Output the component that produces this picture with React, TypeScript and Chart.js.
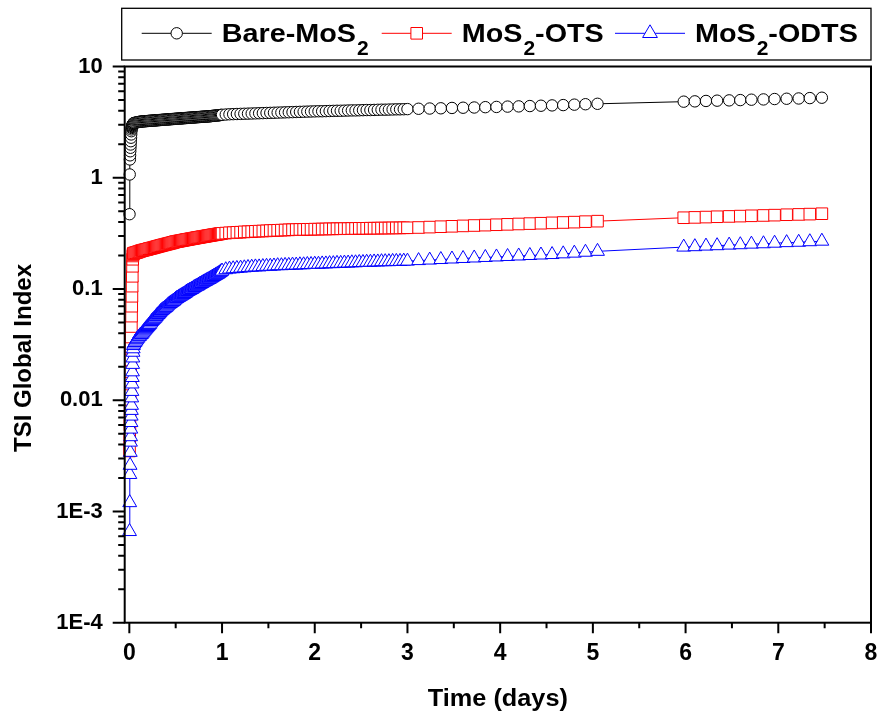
import React, { useEffect, useRef } from 'react';
import { Chart, registerables } from 'chart.js';

Chart.register(...registerables);

// ---- Time samples (days) ----
const TIME_EARLY = [0.002, 0.004, 0.006, 0.008, 0.010, 0.012, 0.014, 0.016, 0.018, 0.020,
  0.022, 0.024, 0.026, 0.028, 0.030, 0.032, 0.034, 0.036, 0.038, 0.040,
  0.042, 0.044];
const TIME_B = [0.05, 0.06, 0.07, 0.08, 0.09, 0.10, 0.11, 0.12, 0.13, 0.14,
  0.15, 0.16, 0.17, 0.18, 0.19, 0.20, 0.21, 0.22, 0.23, 0.24,
  0.25, 0.26, 0.27, 0.28, 0.29, 0.30, 0.31, 0.32, 0.33, 0.34,
  0.35, 0.36, 0.37, 0.38, 0.39, 0.40, 0.41, 0.42, 0.43, 0.44,
  0.45, 0.46, 0.47, 0.48, 0.49, 0.50, 0.51, 0.52, 0.53, 0.54,
  0.55, 0.56, 0.57, 0.58, 0.59, 0.60, 0.61, 0.62, 0.63, 0.64,
  0.65, 0.66, 0.67, 0.68, 0.69, 0.70, 0.71, 0.72, 0.73, 0.74,
  0.75, 0.76, 0.77, 0.78, 0.79, 0.80, 0.81, 0.82, 0.83, 0.84,
  0.85, 0.86, 0.87, 0.88, 0.89, 0.90, 0.91, 0.92, 0.93, 0.94,
  0.95, 0.96, 0.97, 0.98, 0.99, 1.00];
const TIME_C = [1.04, 1.08, 1.12, 1.16, 1.20, 1.24, 1.28, 1.32, 1.36, 1.40,
  1.44, 1.48, 1.52, 1.56, 1.60, 1.64, 1.68, 1.72, 1.76, 1.80,
  1.84, 1.88, 1.92, 1.96, 2.00, 2.04, 2.08, 2.12, 2.16, 2.20,
  2.24, 2.28, 2.32, 2.36, 2.40, 2.44, 2.48, 2.52, 2.56, 2.60,
  2.64, 2.68, 2.72, 2.76, 2.80, 2.84, 2.88, 2.92, 2.96, 3.00];
const TIME_D = [3.12, 3.24, 3.36, 3.48, 3.60, 3.72, 3.84, 3.96, 4.08, 4.20,
  4.32, 4.44, 4.56, 4.68, 4.80, 4.92, 5.05];
const TIME_E = [5.98, 6.10, 6.22, 6.34, 6.47, 6.59, 6.71, 6.84, 6.96, 7.09, 7.22, 7.34, 7.47];

// ---- Bare-MoS2 ----
const BARE_EARLY = [0.47, 1.07, 1.46, 1.59, 1.73, 1.86, 1.99, 2.13, 2.29, 2.45,
  2.62, 2.72, 2.80, 2.86, 2.91, 2.95, 2.98, 3.01, 3.03, 3.05,
  3.07, 3.09];
const BARE_B = [3.10, 3.12, 3.13, 3.15, 3.16, 3.17, 3.18, 3.19, 3.20, 3.21,
  3.21, 3.22, 3.22, 3.23, 3.23, 3.24, 3.24, 3.25, 3.25, 3.26,
  3.26, 3.27, 3.27, 3.28, 3.28, 3.29, 3.29, 3.30, 3.30, 3.31,
  3.31, 3.32, 3.32, 3.33, 3.33, 3.34, 3.34, 3.35, 3.35, 3.36,
  3.36, 3.37, 3.37, 3.38, 3.38, 3.39, 3.39, 3.40, 3.40, 3.41,
  3.41, 3.42, 3.42, 3.43, 3.43, 3.44, 3.44, 3.45, 3.45, 3.46,
  3.46, 3.47, 3.47, 3.48, 3.48, 3.49, 3.49, 3.50, 3.50, 3.51,
  3.51, 3.52, 3.52, 3.53, 3.53, 3.54, 3.54, 3.55, 3.55, 3.56,
  3.56, 3.57, 3.57, 3.58, 3.59, 3.60, 3.60, 3.61, 3.62, 3.63,
  3.63, 3.64, 3.65, 3.66, 3.67, 3.68];
const BARE_C = [3.70, 3.72, 3.73, 3.74, 3.75, 3.76, 3.77, 3.78, 3.79, 3.80,
  3.81, 3.82, 3.83, 3.84, 3.85, 3.86, 3.87, 3.88, 3.89, 3.90,
  3.91, 3.92, 3.93, 3.94, 3.95, 3.96, 3.96, 3.97, 3.98, 3.99,
  4.00, 4.00, 4.01, 4.02, 4.03, 4.03, 4.04, 4.05, 4.06, 4.06,
  4.07, 4.08, 4.09, 4.09, 4.10, 4.11, 4.12, 4.12, 4.13, 4.14];
const BARE_D = [4.17, 4.19, 4.21, 4.24, 4.26, 4.28, 4.31, 4.33, 4.36, 4.38,
  4.41, 4.44, 4.47, 4.50, 4.54, 4.58, 4.62];
const BARE_E = [4.83, 4.86, 4.90, 4.93, 4.96, 4.99, 5.03, 5.06, 5.10, 5.13, 5.16, 5.20, 5.24];

// ---- MoS2-OTS ----
const OTS_EARLY = [0.0035, 0.0045, 0.006, 0.008, 0.011, 0.015, 0.018, 0.023, 0.030, 0.037,
  0.046, 0.057, 0.070, 0.086, 0.106, 0.13, 0.16, 0.185, 0.198, 0.204,
  0.207, 0.209];
const OTS_B = [0.210, 0.211, 0.212, 0.213, 0.215, 0.216, 0.218, 0.219, 0.221, 0.222,
  0.223, 0.224, 0.225, 0.226, 0.227, 0.228, 0.230, 0.231, 0.232, 0.233,
  0.234, 0.235, 0.237, 0.238, 0.239, 0.240, 0.242, 0.243, 0.244, 0.245,
  0.247, 0.248, 0.249, 0.250, 0.252, 0.253, 0.254, 0.255, 0.257, 0.258,
  0.259, 0.260, 0.262, 0.263, 0.265, 0.266, 0.267, 0.268, 0.269, 0.270,
  0.271, 0.272, 0.273, 0.274, 0.275, 0.276, 0.277, 0.278, 0.279, 0.280,
  0.281, 0.282, 0.283, 0.284, 0.285, 0.286, 0.287, 0.288, 0.289, 0.290,
  0.291, 0.292, 0.293, 0.294, 0.295, 0.296, 0.297, 0.298, 0.299, 0.300,
  0.301, 0.302, 0.303, 0.304, 0.305, 0.306, 0.307, 0.308, 0.309, 0.310,
  0.311, 0.312, 0.313, 0.314, 0.315, 0.316];
const OTS_C = [0.318, 0.320, 0.321, 0.323, 0.324, 0.326, 0.327, 0.328, 0.330, 0.331,
  0.332, 0.333, 0.335, 0.336, 0.337, 0.338, 0.339, 0.340, 0.341, 0.342,
  0.343, 0.343, 0.344, 0.344, 0.345, 0.345, 0.346, 0.346, 0.347, 0.347,
  0.348, 0.348, 0.349, 0.349, 0.350, 0.350, 0.351, 0.351, 0.351, 0.352,
  0.352, 0.352, 0.353, 0.353, 0.353, 0.354, 0.354, 0.354, 0.355, 0.355];
const OTS_D = [0.357, 0.360, 0.363, 0.366, 0.369, 0.372, 0.375, 0.378, 0.381, 0.384,
  0.387, 0.390, 0.393, 0.396, 0.399, 0.403, 0.407];
const OTS_E = [0.437, 0.440, 0.443, 0.446, 0.449, 0.452, 0.455, 0.458, 0.461, 0.465, 0.468, 0.471, 0.475];

// ---- MoS2-ODTS ----
const ODTS_EARLY = [0.00066, 0.0012, 0.00215, 0.0026, 0.0034, 0.0042, 0.0047, 0.0055, 0.0063, 0.0072,
  0.0081, 0.009, 0.0105, 0.012, 0.014, 0.016, 0.018, 0.021, 0.024, 0.027,
  0.029, 0.031];
const ODTS_B = [0.032, 0.033, 0.034, 0.035, 0.036, 0.037, 0.0375, 0.0385, 0.039, 0.040,
  0.041, 0.042, 0.043, 0.044, 0.045, 0.046, 0.047, 0.048, 0.0495, 0.051,
  0.052, 0.053, 0.054, 0.055, 0.0565, 0.058, 0.059, 0.060, 0.0615, 0.063,
  0.064, 0.065, 0.066, 0.067, 0.068, 0.069, 0.0705, 0.072, 0.073, 0.074,
  0.075, 0.076, 0.077, 0.078, 0.0795, 0.081, 0.082, 0.083, 0.084, 0.085,
  0.086, 0.087, 0.088, 0.089, 0.090, 0.091, 0.0925, 0.094, 0.095, 0.096,
  0.097, 0.098, 0.099, 0.100, 0.1015, 0.103, 0.104, 0.105, 0.106, 0.107,
  0.1085, 0.110, 0.111, 0.112, 0.1135, 0.115, 0.116, 0.117, 0.1185, 0.120,
  0.121, 0.122, 0.1235, 0.125, 0.1265, 0.128, 0.1295, 0.131, 0.1325, 0.134,
  0.1355, 0.137, 0.139, 0.141, 0.143, 0.145];
const ODTS_C = [0.149, 0.151, 0.152, 0.153, 0.154, 0.155, 0.156, 0.157, 0.158, 0.158,
  0.159, 0.160, 0.160, 0.161, 0.162, 0.162, 0.163, 0.163, 0.164, 0.164,
  0.165, 0.165, 0.166, 0.166, 0.167, 0.167, 0.168, 0.168, 0.169, 0.169,
  0.170, 0.170, 0.171, 0.171, 0.172, 0.172, 0.173, 0.173, 0.174, 0.174,
  0.175, 0.175, 0.176, 0.176, 0.176, 0.177, 0.177, 0.177, 0.178, 0.178];
const ODTS_D = [0.180, 0.182, 0.184, 0.186, 0.188, 0.190, 0.192, 0.194, 0.196, 0.198,
  0.200, 0.202, 0.204, 0.207, 0.210, 0.214, 0.218];
const ODTS_E = [0.238, 0.240, 0.243, 0.245, 0.248, 0.250, 0.253, 0.255, 0.258, 0.261, 0.263, 0.266, 0.269];

const TIME = [...TIME_EARLY, ...TIME_B, ...TIME_C, ...TIME_D, ...TIME_E];
const BARE = [...BARE_EARLY, ...BARE_B, ...BARE_C, ...BARE_D, ...BARE_E];
const OTS = [...OTS_EARLY, ...OTS_B, ...OTS_C, ...OTS_D, ...OTS_E];
const ODTS = [...ODTS_EARLY, ...ODTS_B, ...ODTS_C, ...ODTS_D, ...ODTS_E];

// ---- Axes ----
const X_TICKS = [0, 1, 2, 3, 4, 5, 6, 7, 8];
const X_MINOR = [0.5, 1.5, 2.5, 3.5, 4.5, 5.5, 6.5, 7.5];
const Y_TICKS = [1e-4, 1e-3, 0.01, 0.1, 1, 10];
const Y_LABELS = ['1E-4', '1E-3', '0.01', '0.1', '1', '10'];
const Y_MINOR_MULT = [2, 3, 4, 5, 6, 7, 8, 9];
const X_TITLE = 'Time (days)';
const Y_TITLE = 'TSI Global Index';

// legend: [main, subscript, suffix]
const LEGEND_TEXT = [
  ['Bare-MoS', '2', ''],
  ['MoS', '2', '-OTS'],
  ['MoS', '2', '-ODTS'],
];
const COLORS = ['#000000', '#ff0000', '#0000ff'];
const STYLES = ['circle', 'rect', 'triangle'];

const FONT = "'Liberation Sans', Arial, sans-serif";

function zip(xs: number[], ys: number[]) {
  return xs.map((x, i) => ({ x, y: ys[i] }));
}

function stretchText(ctx: CanvasRenderingContext2D, text: string, x: number, y: number, sx: number) {
  ctx.save();
  ctx.translate(x, y);
  ctx.scale(sx, 1);
  ctx.fillText(text, 0, 0);
  ctx.restore();
  return ctx.measureText(text).width * sx;
}

function drawMarker(ctx: CanvasRenderingContext2D, style: string, x: number, y: number, color: string) {
  ctx.save();
  ctx.fillStyle = '#fff';
  ctx.strokeStyle = color;
  ctx.lineWidth = 1;
  ctx.beginPath();
  if (style === 'circle') {
    ctx.arc(x, y, 5.7, 0, Math.PI * 2);
  } else if (style === 'rect') {
    ctx.rect(x - 5.8, y - 5.8, 11.6, 11.6);
  } else {
    ctx.moveTo(x, y - 8.5);
    ctx.lineTo(x + 7.4, y + 4.2);
    ctx.lineTo(x - 7.4, y + 4.2);
    ctx.closePath();
  }
  ctx.fill();
  ctx.stroke();
  ctx.restore();
}

const overlay = {
  id: 'overlay',
  afterDraw(chart: any) {
    const { ctx, chartArea: a, scales } = chart;
    const xs = scales.x;
    const ys = scales.y;
    ctx.save();
    ctx.strokeStyle = '#000';
    ctx.lineWidth = 2;
    ctx.strokeRect(a.left, a.top, a.right - a.left, a.bottom - a.top);

    // tick marks
    ctx.beginPath();
    for (const v of Y_TICKS) {
      const p = ys.getPixelForValue(v);
      ctx.moveTo(a.left - 12, p);
      ctx.lineTo(a.left, p);
    }
    for (let i = 0; i < Y_TICKS.length - 1; i++) {
      for (const m of Y_MINOR_MULT) {
        const p = ys.getPixelForValue(Y_TICKS[i] * m);
        ctx.moveTo(a.left - 6.5, p);
        ctx.lineTo(a.left, p);
      }
    }
    for (const v of X_TICKS) {
      const p = xs.getPixelForValue(v);
      ctx.moveTo(p, a.bottom);
      ctx.lineTo(p, a.bottom + 10.5);
    }
    for (const v of X_MINOR) {
      const p = xs.getPixelForValue(v);
      ctx.moveTo(p, a.bottom);
      ctx.lineTo(p, a.bottom + 5.5);
    }
    ctx.stroke();

    // axis titles
    ctx.fillStyle = '#000';
    ctx.textBaseline = 'alphabetic';
    ctx.font = `bold 23px ${FONT}`;
    const xw = ctx.measureText(X_TITLE).width * 1.1;
    stretchText(ctx, X_TITLE, (a.left + a.right) / 2 - xw / 2, 706, 1.1);

    ctx.save();
    ctx.font = `bold 24px ${FONT}`;
    ctx.translate(31, 358);
    ctx.rotate(-Math.PI / 2);
    ctx.textAlign = 'center';
    ctx.fillText(Y_TITLE, 0, 0);
    ctx.restore();

    // legend box
    ctx.lineWidth = 1.3;
    ctx.strokeRect(121.7, 8.3, 749.3, 51.7);
    const lineStarts = [141.7, 381.7, 615];
    const ly = 33.3;
    for (let i = 0; i < 3; i++) {
      const x0 = lineStarts[i];
      ctx.strokeStyle = COLORS[i];
      ctx.lineWidth = 1;
      ctx.beginPath();
      ctx.moveTo(x0, ly);
      ctx.lineTo(x0 + 70, ly);
      ctx.stroke();
      drawMarker(ctx, STYLES[i], x0 + 35, ly, COLORS[i]);
      const [main, sub, suffix] = LEGEND_TEXT[i];
      let tx = x0 + 80;
      ctx.fillStyle = '#000';
      ctx.font = `bold 25px ${FONT}`;
      tx += stretchText(ctx, main, tx, 41.7, 1.15);
      ctx.font = `bold 20px ${FONT}`;
      tx += stretchText(ctx, sub, tx + 1, 55, 1.05) + 1;
      if (suffix) {
        ctx.font = `bold 25px ${FONT}`;
        stretchText(ctx, suffix, tx, 41.7, 1.15);
      }
    }
    ctx.restore();
  },
};

export default function App() {
  const ref = useRef<HTMLCanvasElement>(null);
  useEffect(() => {
    const canvas = ref.current;
    if (!canvas) return;
    const common = { showLine: true, borderWidth: 1, pointBorderWidth: 1, pointBackgroundColor: '#ffffff', tension: 0, clip: 10 };
    const chart = new Chart(canvas, {
      type: 'scatter',
      data: {
        datasets: [
          { ...common, label: 'Bare-MoS2', data: zip(TIME, BARE), borderColor: COLORS[0], pointBorderColor: COLORS[0], pointStyle: 'circle', pointRadius: 5.7, order: 2 },
          { ...common, label: 'MoS2-OTS', data: zip(TIME, OTS), borderColor: COLORS[1], pointBorderColor: COLORS[1], pointStyle: 'rect', pointRadius: 8.2, order: 1 },
          { ...common, label: 'MoS2-ODTS', data: zip(TIME, ODTS), borderColor: COLORS[2], pointBorderColor: COLORS[2], pointStyle: 'triangle', pointRadius: 8, order: 0 },
        ] as any,
      },
      options: {
        animation: false,
        responsive: false,
        devicePixelRatio: 1,
        layout: { autoPadding: false, padding: { top: 66.5, right: 6, left: 0, bottom: 0 } },
        plugins: { legend: { display: false }, tooltip: { enabled: false } },
        scales: {
          x: {
            type: 'linear',
            min: -0.05,
            max: 8,
            grid: { display: false, drawTicks: true, tickLength: 17 },
            border: { display: false },
            ticks: { color: '#000', font: { family: FONT, size: 23, weight: 'bold' }, padding: 0, autoSkip: false, maxRotation: 0 },
            afterBuildTicks: (s: any) => { s.ticks = X_TICKS.map((v) => ({ value: v })); },
            afterFit: (s: any) => { s.height = 92.3; s.paddingLeft = 0; s.paddingRight = 0; },
          },
          y: {
            type: 'logarithmic',
            min: 1e-4,
            max: 10,
            grid: { display: false, drawTicks: true, tickLength: 22 },
            border: { display: false },
            ticks: {
              color: '#000',
              font: { family: FONT, size: 22, weight: 'bold' },
              padding: 0,
              autoSkip: false,
              callback: (_v: any, i: number) => Y_LABELS[i],
            },
            afterBuildTicks: (s: any) => { s.ticks = Y_TICKS.map((v) => ({ value: v })); },
            afterFit: (s: any) => { s.width = 124.7; s.paddingTop = 0; s.paddingBottom = 0; },
          },
        },
      } as any,
      plugins: [overlay],
    });
    return () => chart.destroy();
  }, []);
  return (
    <div style={{ position: 'absolute', left: 0, top: 0, width: 877, height: 715, background: '#fff' }}>
      <canvas ref={ref} width={877} height={715} style={{ width: 877, height: 715, display: 'block' }} />
    </div>
  );
}
